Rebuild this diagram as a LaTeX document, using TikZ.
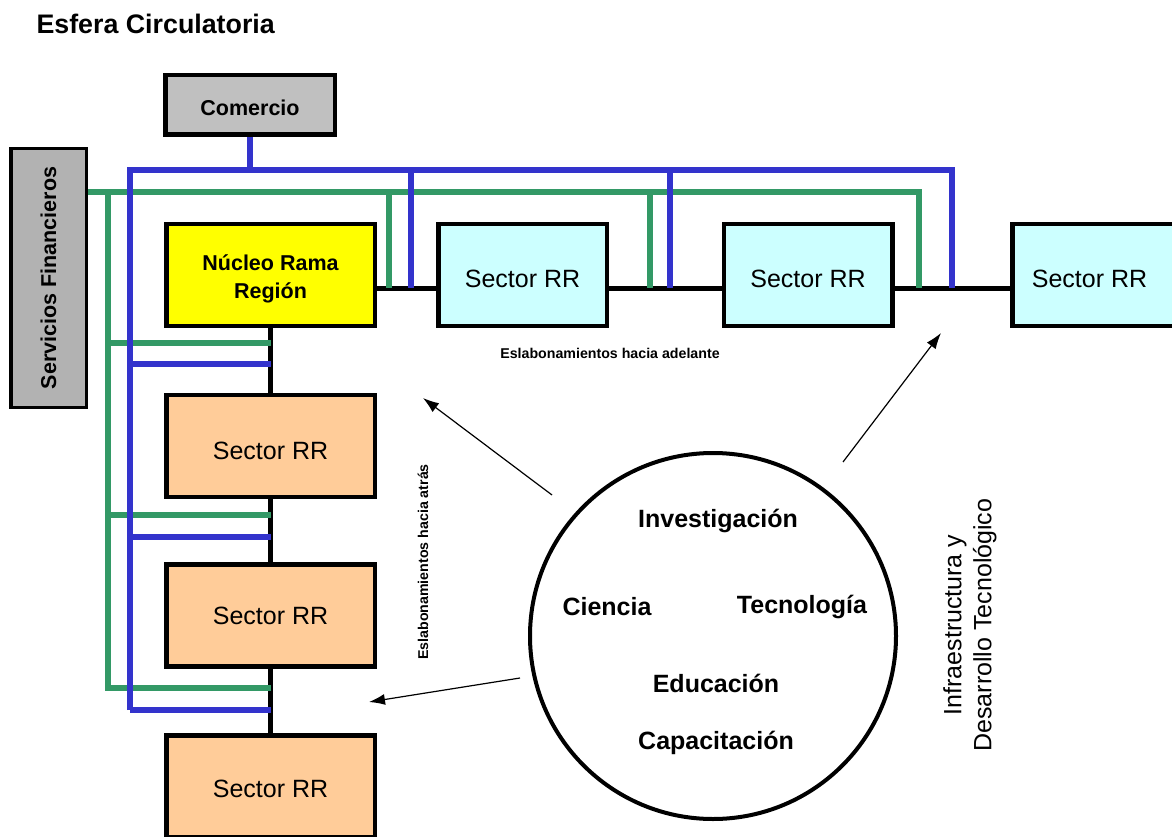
\documentclass[tikz,border=0pt]{standalone}
\usepackage{fontspec}
\setmainfont{Liberation Sans}
\usetikzlibrary{arrows.meta}
\definecolor{busblue}{RGB}{51,51,204}
\definecolor{busgreen}{RGB}{51,153,102}
\definecolor{nucleoyellow}{RGB}{255,255,0}
\definecolor{fwdcyan}{RGB}{204,255,255}
\definecolor{backorange}{RGB}{255,204,153}
\definecolor{comgray}{RGB}{192,192,192}
\definecolor{fingray}{RGB}{178,178,178}
\newcommand{\lowered}[2]{\raisebox{-#1}[\height][\depth]{#2}}
\begin{document}
\begin{tikzpicture}[x=1pt,y=-1pt,
  boxbase/.style={draw=black, line width=4.5pt, inner sep=0pt, align=center},
  bigbox/.style={boxbase, minimum width=208.5pt, minimum height=102pt},
  fwdbox/.style={boxbase, fill=fwdcyan, minimum width=168.5pt, minimum height=102pt,
     font=\fontsize{25}{30}\selectfont},
  backbox/.style={bigbox, fill=backorange, font=\fontsize{25}{30}\selectfont},
  boldlabel/.style={font=\fontsize{21.5}{28}\selectfont\bfseries},
  circlabel/.style={font=\fontsize{25}{30}\selectfont\bfseries},
  smalllabel/.style={font=\fontsize{14.2}{17}\selectfont\bfseries},
  chain/.style={draw=black, line width=5pt},
  greenbus/.style={draw=busgreen, line width=5.5pt, line join=miter},
  bluebus/.style={draw=busblue, line width=5.5pt, line join=miter},
  influence/.style={draw=black, line width=1.2pt, -{Latex[length=16pt,width=11pt]}}
]
\useasboundingbox (0,0) rectangle (1172,837);

% title
\node[anchor=base west, font=\fontsize{26.8}{30}\selectfont\bfseries] (title) at (33,34) {Esfera Circulatoria};

% boxes
\node[boxbase, fill=comgray, minimum width=169.5pt, minimum height=59.5pt, boldlabel] (com) at (250,105) {\lowered{3pt}{Comercio}};
\node[boxbase, fill=fingray, line width=3.5pt, rotate=90, minimum width=258.5pt, minimum height=75.5pt, boldlabel] (fin) at (48.5,278) {Servicios Financieros};
\node[bigbox, fill=nucleoyellow, boldlabel] (nuc) at (270.5,275) {\lowered{4pt}{\begin{tabular}{@{}c@{}}Núcleo Rama\\Región\end{tabular}}};
\node[fwdbox] (c1) at (522.5,275) {\lowered{4pt}{Sector RR}};
\node[fwdbox] (c2) at (808,275) {\lowered{4pt}{Sector RR}};
\node[fwdbox] (c3) at (1096.5,275) {\hspace*{-14pt}\lowered{4pt}{Sector RR}};
\node[backbox] (o1) at (270.5,446) {\lowered{5pt}{Sector RR}};
\node[backbox] (o2) at (270.5,615.5) {Sector RR};
\node[backbox] (o3) at (270.5,786.5) {\lowered{2pt}{Sector RR}};

% levels
\coordinate (fwd) at (0,288);
\coordinate (gtop) at (0,192);
\coordinate (btop) at (0,170);
\coordinate (gx) at (108,0);
\coordinate (bx) at (130,0);
\coordinate (g1) at (0,343);
\coordinate (g2) at (0,515);
\coordinate (g3) at (0,688);
\coordinate (b1) at (0,364);
\coordinate (b2) at (0,537);
\coordinate (b3) at (0,710);
\coordinate (gd1) at (389,0);
\coordinate (gd2) at (650,0);
\coordinate (gd3) at (919,0);
\coordinate (bd1) at (411,0);
\coordinate (bd2) at (670,0);
\coordinate (bd3) at (952,0);

% black chains
\draw[chain] (nuc.east |- fwd) -- (c1.west |- fwd);
\draw[chain] (c1.east |- fwd) -- (c2.west |- fwd);
\draw[chain] (c2.east |- fwd) -- (c3.west |- fwd);
\draw[chain] (nuc.south) -- (o1.north);
\draw[chain] (o1.south) -- (o2.north);
\draw[chain] (o2.south) -- (o3.north);

% green bus (Servicios Financieros)
\draw[greenbus] (fin.south |- gtop) -- (gd3 |- gtop) -- (gd3 |- fwd);
\draw[greenbus] (gd1 |- gtop) -- (gd1 |- fwd);
\draw[greenbus] (gd2 |- gtop) -- (gd2 |- fwd);
\draw[greenbus] (gx |- gtop) -- (gx |- g3) -- (nuc.south |- g3);
\draw[greenbus] (gx |- g1) -- (nuc.south |- g1);
\draw[greenbus] (gx |- g2) -- (nuc.south |- g2);

% blue bus (Comercio)
\draw[bluebus] (com.south) -- (com.south |- btop);
\draw[bluebus] (bx |- b3) -- (bx |- btop) -- (bd3 |- btop) -- (bd3 |- fwd);
\draw[bluebus] (bd1 |- btop) -- (bd1 |- fwd);
\draw[bluebus] (bd2 |- btop) -- (bd2 |- fwd);
\draw[bluebus] (bx |- b3) -- (nuc.south |- b3);
\draw[bluebus] (bx |- b1) -- (nuc.south |- b1);
\draw[bluebus] (bx |- b2) -- (nuc.south |- b2);

% labels
\node[smalllabel] (fwdlab) at (610,353) {Eslabonamientos hacia adelante};
\node[smalllabel, rotate=90] (backlab) at (423,562) {Eslabonamientos hacia atrás};

% circle
\node[circle, draw=black, line width=4pt, minimum size=366pt, inner sep=0pt] (circ) at (713,636) {};
\node[circlabel] (inv) at (718,521) {Investigación};
\node[circlabel] (cie) at (607,607) {Ciencia};
\node[circlabel] (tec) at (802,607) {Tecnología};
\node[circlabel] (edu) at (716,683) {Educación};
\node[circlabel] (cap) at (716,743) {Capacitación};

\node[rotate=90, align=center, font=\fontsize{25}{30}\selectfont] (infra) at (970,625) {Infraestructura y\\Desarrollo Tecnológico};

% influence arrows
\coordinate (a1s) at (552,495);
\coordinate (a1e) at (423,398);
\coordinate (a2s) at (843,462);
\coordinate (a2e) at (941,333);
\coordinate (a3s) at (520,678);
\coordinate (a3e) at (369,702);
\draw[influence] (a1s) -- (a1e);
\draw[influence] (a2s) -- (a2e);
\draw[influence] (a3s) -- (a3e);
\end{tikzpicture}
\end{document}
